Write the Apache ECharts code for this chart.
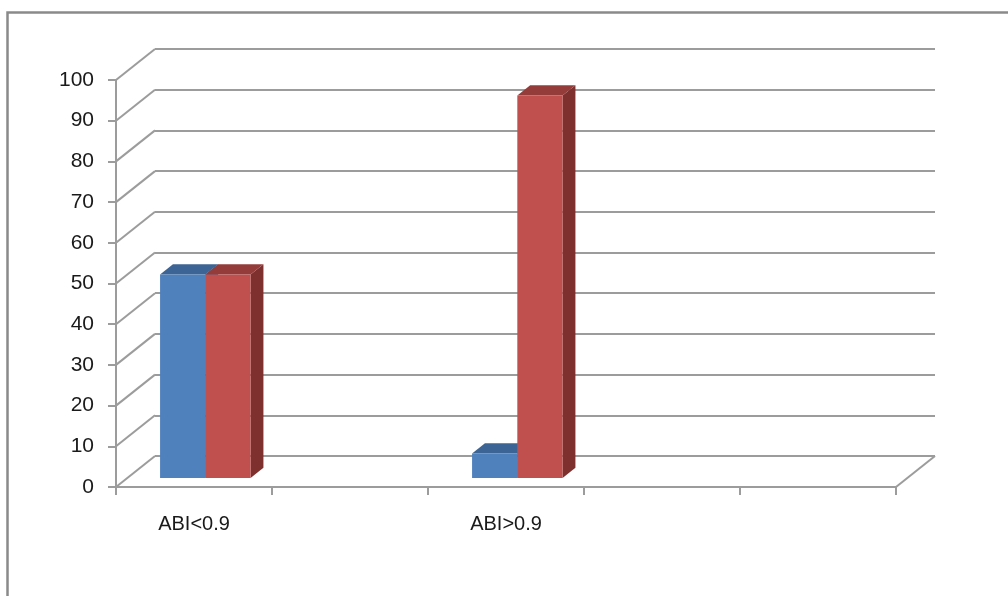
<!DOCTYPE html>
<html>
<head>
<meta charset="utf-8">
<style>
  html, body { margin: 0; padding: 0; background: #fff; }
  #main { width: 1008px; height: 596px; }
</style>
<script src="https://cdn.jsdelivr.net/npm/echarts@6/dist/echarts.min.js"></script>
</head>
<body>
<div id="main"></div>
<script>
// chart data
const categories = ['ABI<0.9', '', 'ABI>0.9', '', '']
const seriesBlue = [50, null, 6, null, null]
const seriesRed = [50, null, 94, null, null]
const yTicks = [0, 10, 20, 30, 40, 50, 60, 70, 80, 90, 100]

// fake 3d: depth of the floor and where the bars sit in it
const DX = 39, DY = 31
const FRONT_T = 0.29   // bar front face, fraction of depth
const BAR_T = 0.33     // bar thickness, fraction of depth
const BAR_FRAC = 0.29  // bar width / band width
const GRID = { left: 116, right: 112, top: 80, bottom: 109 }
const LINE = '#9c9c9c'

const chart = echarts.init(document.getElementById('main'), null, { renderer: 'canvas' })

function toPairs(arr) {
  const out = []
  arr.forEach(function (v, i) { if (v != null) out.push([i, v]) })
  return out
}

function barItem(pos, front, top, side) {
  return function (params, api) {
    const cat = api.value(0), v = api.value(1)
    const base = api.coord([cat, 0])
    const tp = api.coord([cat, v])
    const w = api.size([1, 0])[0] * BAR_FRAC
    const fx = DX * FRONT_T, fy = DY * FRONT_T
    const dx = DX * BAR_T, dy = DY * BAR_T
    const x0 = base[0] + fx + (pos - 1) * w
    const yb = base[1] - fy, yt = tp[1] - fy
    return {
      type: 'group',
      children: [
        { type: 'polygon', shape: { points: [[x0 + w, yt], [x0 + w + dx, yt - dy], [x0 + w + dx, yb - dy], [x0 + w, yb]] }, style: { fill: side } },
        { type: 'polygon', shape: { points: [[x0, yt], [x0 + w, yt], [x0 + w + dx, yt - dy], [x0 + dx, yt - dy]] }, style: { fill: top } },
        { type: 'rect', shape: { x: x0, y: yt, width: w, height: yb - yt }, style: { fill: front } }
      ]
    }
  }
}

// diagonal lines joining front axis to back wall
function connectorItem(params, api) {
  const p = api.coord([0, api.value(1)])
  const cs = params.coordSys
  const lines = [{ type: 'line', shape: { x1: cs.x, y1: p[1], x2: cs.x + DX, y2: p[1] - DY }, style: { stroke: LINE, lineWidth: 2 } }]
  if (api.value(1) === yTicks[0]) {
    lines.push({ type: 'line', shape: { x1: cs.x + cs.width, y1: p[1], x2: cs.x + cs.width + DX, y2: p[1] - DY }, style: { stroke: LINE, lineWidth: 2 } })
  }
  return { type: 'group', children: lines }
}

var option = {
  backgroundColor: '#fff',
  animation: false,
  graphic: [{
    type: 'rect',
    shape: { x: 7.5, y: 12.5, width: 1100, height: 700 },
    style: { fill: 'none', stroke: '#8a8a8a', lineWidth: 2.5 },
    z: 0
  }],
  grid: [
    { left: GRID.left, right: GRID.right, top: GRID.top, bottom: GRID.bottom },
    { left: GRID.left + DX, right: GRID.right - DX, top: GRID.top - DY, bottom: GRID.bottom + DY }
  ],
  xAxis: [{
    gridIndex: 0,
    type: 'category',
    data: categories,
    axisLine: { show: true, lineStyle: { color: LINE, width: 2 } },
    axisTick: { show: true, length: 8, lineStyle: { color: LINE, width: 2 } },
    axisLabel: { interval: 0, margin: 27, fontFamily: 'Liberation Sans', fontSize: 20, color: '#1a1a1a' },
    splitLine: { show: false }
  }, {
    gridIndex: 1,
    type: 'category',
    data: categories,
    show: false
  }],
  yAxis: [{
    gridIndex: 0,
    type: 'value',
    min: 0,
    max: 100,
    interval: 10,
    axisLine: { show: true, lineStyle: { color: LINE, width: 2 } },
    axisTick: { show: true, length: 8, lineStyle: { color: LINE, width: 2 } },
    axisLabel: { margin: 22, fontFamily: 'Liberation Sans', fontSize: 21, color: '#1a1a1a' },
    splitLine: { show: false }
  }, {
    gridIndex: 1,
    type: 'value',
    min: 0,
    max: 100,
    interval: 10,
    axisLine: { show: false },
    axisTick: { show: false },
    axisLabel: { show: false },
    splitLine: { show: true, lineStyle: { color: LINE, width: 2 } }
  }],
  series: [{
    type: 'custom',
    name: 'connectors',
    xAxisIndex: 0,
    yAxisIndex: 0,
    clip: false,
    silent: true,
    renderItem: connectorItem,
    data: yTicks.map(function (v) { return [0, v] })
  }, {
    type: 'custom',
    name: 'Series 1',
    xAxisIndex: 0,
    yAxisIndex: 0,
    clip: false,
    renderItem: barItem(0, '#4f81bd', '#3c6494', '#385d8a'),
    data: toPairs(seriesBlue)
  }, {
    type: 'custom',
    name: 'Series 2',
    xAxisIndex: 0,
    yAxisIndex: 0,
    clip: false,
    renderItem: barItem(1, '#c0504d', '#943c3a', '#7d302e'),
    data: toPairs(seriesRed)
  }]
}

chart.setOption(option)
</script>
</body>
</html>
